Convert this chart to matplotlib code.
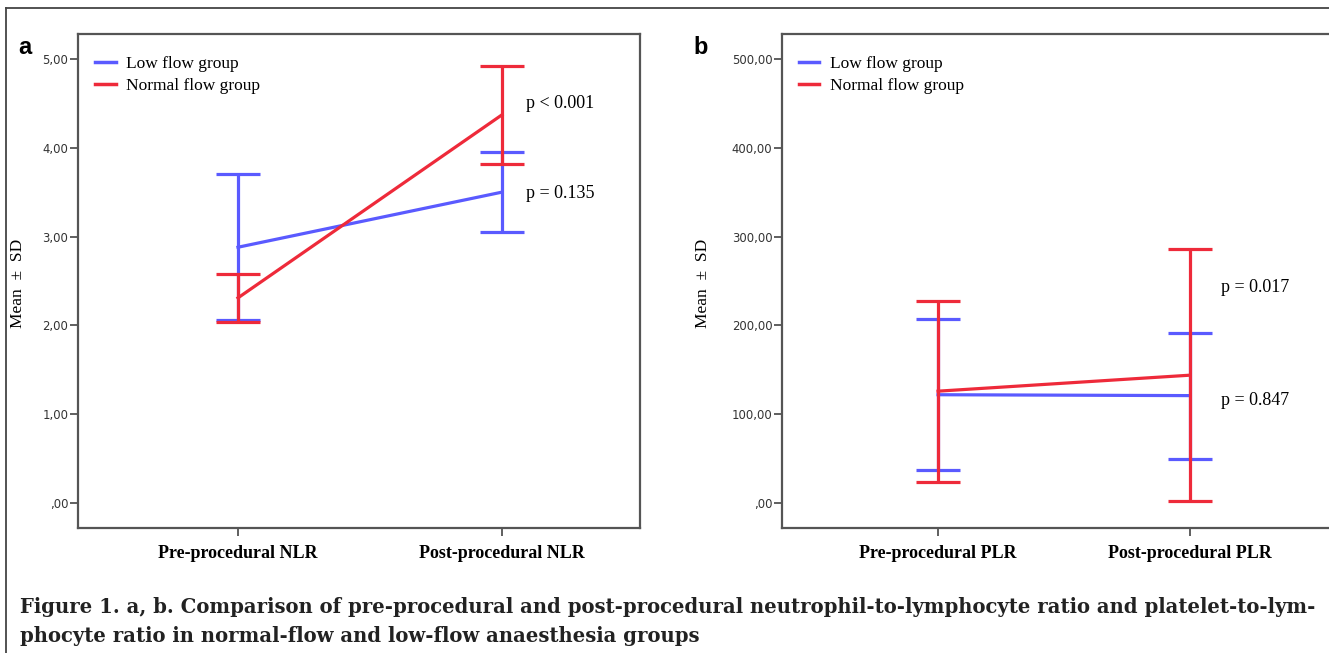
import matplotlib.pyplot as plt
from matplotlib.lines import Line2D

W, H = 1329, 653

# data: mean and SD per group
cats_a = ['Pre-procedural NLR', 'Post-procedural NLR']
low_nlr_mean = [2.88, 3.50]
low_nlr_sd = [0.82, 0.45]
norm_nlr_mean = [2.31, 4.37]
norm_nlr_sd = [0.27, 0.55]
p_nlr = ['p < 0.001', 'p = 0.135']

cats_b = ['Pre-procedural PLR', 'Post-procedural PLR']
low_plr_mean = [122.0, 121.0]
low_plr_sd = [85.0, 71.0]
norm_plr_mean = [126.0, 144.0]
norm_plr_sd = [102.0, 142.0]
p_plr = ['p = 0.017', 'p = 0.847']

ticks_a = [0, 1, 2, 3, 4, 5]
ticks_b = [0, 100, 200, 300, 400, 500]

blue = '#5a5aff'
red = '#ee2a3a'
serif = ['Liberation Serif', 'DejaVu Serif']
narrow = ['Liberation Sans Narrow', 'DejaVu Sans']


def px(x):
    return x / W


def py(y):
    return 1 - y / H


def fmt(v):
    s = '%.2f' % v
    s = s.replace('.', ',')
    if s.startswith('0,'):
        s = s[1:]
    return s


def panel(ax, cats, lm, ls, nm, ns, pl, ticks, ylim, xlim, ptext_x, ptext_y, right_spine=True):
    x = list(range(len(cats)))
    ax.errorbar(x, lm, yerr=ls, color=blue, lw=2.3, elinewidth=2.3,
                capsize=15.5, capthick=2.3, label='Low flow group', zorder=3)
    ax.errorbar(x, nm, yerr=ns, color=red, lw=2.3, elinewidth=2.3,
                capsize=15.5, capthick=2.3, label='Normal flow group', zorder=4)
    ax.set_xlim(xlim)
    ax.set_ylim(ylim)
    ax.set_xticks(x)
    ax.set_xticklabels(cats, fontfamily=serif, fontweight='bold', fontsize=13)
    ax.set_yticks(ticks)
    ax.set_yticklabels([fmt(t) for t in ticks], fontfamily=narrow, fontsize=8.4, color='#333333')
    ax.tick_params(axis='both', length=6, width=1.2, color='#444444')
    ax.tick_params(axis='x', pad=6)
    ax.tick_params(axis='y', pad=1)
    for s in ax.spines.values():
        s.set_color('#555555')
        s.set_linewidth(1.6)
    if not right_spine:
        ax.spines['right'].set_visible(False)
    for txt, yy in zip(pl, ptext_y):
        ax.text(ptext_x, yy, txt, fontfamily=serif, fontsize=13, va='center', ha='left')
    h = [Line2D([], [], color=blue, lw=2.5), Line2D([], [], color=red, lw=2.5)]
    ax.legend(h, ['Low flow group', 'Normal flow group'], loc='upper left',
              bbox_to_anchor=(0.03, 0.955), frameon=False, handlelength=1.2,
              handletextpad=0.6, borderpad=0, borderaxespad=0, labelspacing=0.3,
              prop={'family': serif, 'size': 12.5})


fig = plt.figure(figsize=(W / 100, H / 100), dpi=100)

ax1 = fig.add_axes([px(78), py(528), px(640 - 78), (528 - 34) / H])
panel(ax1, cats_a, low_nlr_mean, low_nlr_sd, norm_nlr_mean, norm_nlr_sd, p_nlr,
      ticks_a, (-0.28, 5.28), (-0.606, 1.523), 1.09, [4.50, 3.49])

ax2 = fig.add_axes([px(782), py(528), px(1335 - 782), (528 - 34) / H])
panel(ax2, cats_b, low_plr_mean, low_plr_sd, norm_plr_mean, norm_plr_sd, p_plr,
      ticks_b, (-28, 528), (-0.619, 1.575), 1.123, [243, 116], right_spine=False)

for xx, yy, lab in [(18, 47, 'a'), (693, 47, 'b')]:
    fig.text(px(xx), py(yy), lab, fontsize=17, fontweight='bold',
             fontfamily=['Liberation Sans', 'DejaVu Sans'], ha='left', va='center')

for xx, lab in [(18, 'Mean  ±  SD'), (703, 'Mean  ±  SD')]:
    fig.text(px(xx), py(283), lab, rotation=90, fontsize=12.5, fontfamily=serif,
             ha='center', va='center')

# outer frame (top and left)
fig.add_artist(Line2D([px(6), 1], [py(8), py(8)], color='#444444', lw=1.3))
fig.add_artist(Line2D([px(6), px(6)], [py(8), 0], color='#444444', lw=1.3))

cap1 = ('Figure 1. a, b. Comparison of pre-procedural and post-procedural '
        'neutrophil-to-lymphocyte ratio and platelet-to-lym-')
cap2 = 'phocyte ratio in normal-flow and low-flow anaesthesia groups'
capfont = ['DejaVu Serif']
fig.text(px(20), py(607), cap1, fontsize=14.15, fontweight='bold', fontfamily=capfont,
         color='#222222', va='center', ha='left')
fig.text(px(20), py(636), cap2, fontsize=14.15, fontweight='bold', fontfamily=capfont,
         color='#222222', va='center', ha='left')

fig.savefig('out.png', dpi=100)
